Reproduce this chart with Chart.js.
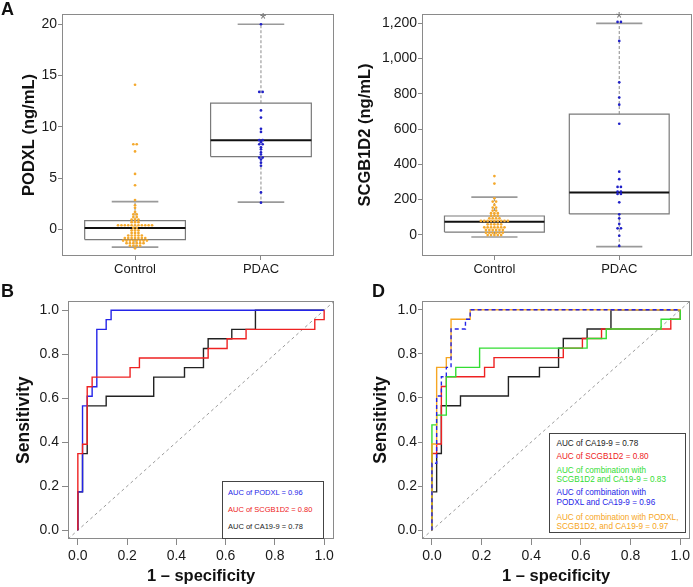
<!DOCTYPE html>
<html lang="en">
<head>
<meta charset="utf-8">
<title>PODXL and SCGB1D2</title>
<script src="https://cdn.jsdelivr.net/npm/chart.js@4/dist/chart.umd.min.js"></script>
<style>
  body { margin:0; background:#fff; width:693px; height:587px; position:relative; overflow:hidden;
         font-family:'Liberation Sans', Arial, sans-serif; }
  canvas { position:absolute; }
  .tag { position:absolute; font-weight:bold; font-size:18px; line-height:18px; color:#111; }
  .star { position:absolute; width:20px; text-align:center; font-size:16px; line-height:16px; color:#777; }
  .legend { position:absolute; border:1px solid #444; background:#fff; box-sizing:border-box; }
  .legend div { position:absolute; white-space:nowrap; line-height:8px; }
</style>
</head>
<body>
<canvas id="cA1" width="340" height="290" style="left:0;top:0"></canvas>
<canvas id="cA2" width="353" height="290" style="left:340px;top:0"></canvas>
<canvas id="cB" width="340" height="297" style="left:0;top:290px"></canvas>
<canvas id="cD" width="353" height="297" style="left:340px;top:290px"></canvas>

<div class="tag" style="left:1px;top:0px">A</div>
<div class="tag" style="left:1px;top:282px">B</div>
<div class="tag" style="left:372px;top:282px">D</div>
<div class="star" style="left:253px;top:12px">*</div>
<div class="star" style="left:609px;top:11px">*</div>

<div class="legend" style="left:222px;top:481px;width:102px;height:58px;font-size:7.5px">
  <div style="left:5px;top:6.5px;color:#2424e8">AUC of PODXL = 0.96</div>
  <div style="left:5px;top:24px;color:#ee2222">AUC of SCGB1D2 = 0.80</div>
  <div style="left:5px;top:41px;color:#222">AUC of CA19-9 = 0.78</div>
</div>
<div class="legend" style="left:549px;top:433px;width:137px;height:100px;font-size:8.2px">
  <div style="left:6.5px;top:6px;color:#222">AUC of CA19-9 = 0.78</div>
  <div style="left:6.5px;top:18.5px;color:#ee2222">AUC of SCGB1D2 = 0.80</div>
  <div style="left:6.5px;top:32.5px;color:#33dd33">AUC of combination with</div>
  <div style="left:6.5px;top:42px;color:#33dd33">SCGB1D2 and CA19-9 = 0.83</div>
  <div style="left:6.5px;top:55px;color:#2424e8">AUC of combination with</div>
  <div style="left:6.5px;top:64.5px;color:#2424e8">PODXL and CA19-9 = 0.96</div>
  <div style="left:6.5px;top:79.5px;color:#f6a623">AUC of combination with PODXL,</div>
  <div style="left:6.5px;top:89px;color:#f6a623">SCGB1D2, and CA19-9 = 0.97</div>
</div>

<script>
// ---- panel A data (ng/mL) ----
const groups = ['Control', 'PDAC'];

const podxlControl = [14.1, 8.3, 8.3, 7.6, 5.4, 4.3, 2.85, 2.35, 2.1, 1.7, 1.45, 1.45,
  1.2, 1.2, 0.95, 0.95, 0.95, 0.7, 0.7, 0.7,
  0.4, 0.4, 0.4, 0.4, 0.4, 0.4, 0.4, 0.4, 0.4, 0.4, 0.4,
  0.15, 0.15, -0.1, -0.1, -0.1, -0.35, -0.35, -0.35,
  -0.6, -0.6, -0.6, -0.6, -0.6,
  -0.85, -0.85, -0.85, -0.85, -0.85, -0.85, -0.85,
  -1.1, -1.1, -1.1, -1.1, -1.1, -1.1, -1.1, -1.1,
  -1.35, -1.35, -1.35, -1.35, -1.35, -1.35,
  -1.6, -1.6, -1.6, -1.6, -1.85];
const podxlPdac = [20, 13.4, 13.4, 11.6, 10.9, 9.8, 9.5, 8.7, 8.7, 8.5, 8.3, 8.3,
  8.0, 7.8, 7.5, 7.3, 7.0, 7.0, 6.8, 6.5, 6.2, 3.6, 2.6];
const podxlLo = [-1.73, 2.65];
const podxlQ1 = [-1.0, 7.1];
const podxlMed = [0.13, 8.7];
const podxlQ3 = [0.85, 12.3];
const podxlHi = [2.7, 20];

const scgbControl = [333, 290, 207, 188, 188, 169, 154, 154, 137, 137,
  122, 122, 122, 108, 108, 108, 93, 93, 93, 93,
  78, 78, 78, 78, 78, 78, 78, 78, 78,
  59, 59, 59, 59, 59, 42, 42, 42, 42, 42, 42, 42,
  27, 27, 27, 27, 27, 27, 11, 11, 11, 11, 11, 11,
  -2, -2, -2, -2, -2];
const scgbPdac = [1208, 1208, 1100, 865, 779, 738, 630, 358, 315, 271, 271,
  245, 245, 231, 231, 184, 116, 93, 61, 36, 36, -6, -64];
const scgbLo = [-13, -68];
const scgbQ1 = [15, 118];
const scgbMed = [74, 239];
const scgbQ3 = [106, 685];
const scgbHi = [213, 1200];

// ---- ROC curves: 1 - specificity and sensitivity at each step ----
const fprPodxl = [0, 0, 0.019, 0.038, 0.058, 0.077, 0.115, 0.135, 1];
const tprPodxl = [0, 0.174, 0.565, 0.609, 0.652, 0.913, 0.957, 1, 1];
const fprScgb = [0, 0, 0.019, 0.038, 0.058, 0.212, 0.25, 0.529, 0.606, 0.683, 0.962, 1];
const tprScgb = [0, 0.348, 0.391, 0.652, 0.696, 0.739, 0.783, 0.826, 0.870, 0.913, 0.957, 1];
const fprCa199 = [0, 0, 0.019, 0.038, 0.115, 0.308, 0.433, 0.51, 0.529, 0.625, 0.721, 1];
const tprCa199 = [0, 0.174, 0.348, 0.565, 0.609, 0.696, 0.739, 0.826, 0.870, 0.913, 1, 1];
const fprScgbCa = [0, 0, 0.019, 0.058, 0.096, 0.192, 0.625, 0.702, 0.923, 1];
const tprScgbCa = [0, 0.478, 0.522, 0.696, 0.739, 0.826, 0.870, 0.913, 0.957, 1];
const fprPodxlCa = [0, 0, 0.019, 0.038, 0.058, 0.077, 0.135, 0.154, 1];
const tprPodxlCa = [0, 0.304, 0.609, 0.696, 0.739, 0.913, 0.957, 1, 1];
const fprAll = [0, 0, 0.019, 0.058, 0.077, 0.154, 1];
const tprAll = [0, 0.391, 0.739, 0.783, 0.957, 1, 1];

const rocTicks = [0, 0.2, 0.4, 0.6, 0.8, 1.0];
const rocMin = -0.04, rocMax = 1.04;

const BLUE = '#2424e8', RED = '#ee2222', GREEN = '#33dd33', ORANGE = '#f6a623', BLACK = '#222';

Chart.defaults.font.family = "'Liberation Sans', Arial, sans-serif";
Chart.defaults.color = '#1a1a1a';
Chart.defaults.animation = false;
Chart.defaults.responsive = false;
Chart.defaults.devicePixelRatio = 1;
Chart.defaults.plugins.legend.display = false;
Chart.defaults.plugins.tooltip.enabled = false;

// grey box round the plot region, like R's box()
const framePlugin = {
  id: 'frame',
  afterDatasetsDraw(chart) {
    const a = chart.chartArea, ctx = chart.ctx;
    ctx.save();
    ctx.strokeStyle = '#8a8a8a';
    ctx.lineWidth = 1;
    ctx.strokeRect(Math.round(a.left) + 0.5, Math.round(a.top) + 0.5,
                   Math.round(a.right - a.left) - 1, Math.round(a.bottom - a.top) - 1);
    ctx.restore();
  }
};

function axis(min, max, ticks, fmt, size, tickLen, pad, fit, title) {
  return {
    type: 'linear', min: min, max: max,
    afterBuildTicks: s => { s.ticks = ticks.map(v => ({ value: v })); },
    afterFit: s => { if (s.isHorizontal()) s.height = fit; else s.width = fit; },
    grid: { display: true, drawOnChartArea: false, drawTicks: true, tickLength: tickLen, color: '#888' },
    border: { display: false },
    ticks: { font: { size: size }, padding: pad, color: '#1a1a1a', callback: fmt, maxRotation: 0, autoSkip: false },
    title: title || { display: false }
  };
}

function line(pts, color, width, dash) {
  return { data: pts.map(p => ({ x: p[0], y: p[1] })), showLine: true, borderColor: color,
           borderWidth: width, borderDash: dash || [], pointRadius: 0, fill: false };
}

const boxHalf = 0.4, stapleHalf = 0.185, dotGap = 0.027;

function boxSets(lo, q1, med, q3, hi) {
  const sets = [];
  for (let i = 0; i < lo.length; i++) {
    const c = i + 1;
    sets.push(line([[c - boxHalf, q1[i]], [c + boxHalf, q1[i]], [c + boxHalf, q3[i]], [c - boxHalf, q3[i]], [c - boxHalf, q1[i]]], '#7a7a7a', 1.2));
    sets.push(line([[c, q3[i]], [c, hi[i]]], '#8a8a8a', 1, [3, 2]));
    sets.push(line([[c, q1[i]], [c, lo[i]]], '#8a8a8a', 1, [3, 2]));
    sets.push(line([[c - stapleHalf, hi[i]], [c + stapleHalf, hi[i]]], '#9a9a9a', 1.6));
    sets.push(line([[c - stapleHalf, lo[i]], [c + stapleHalf, lo[i]]], '#9a9a9a', 1.6));
    sets.push(line([[c - boxHalf, med[i]], [c + boxHalf, med[i]]], '#111', 2));
  }
  return sets;
}

// dots with equal value sit side by side in one row
function swarm(values, center, color) {
  const rows = {}, seen = {};
  values.forEach(v => { rows[v] = (rows[v] || 0) + 1; });
  const pts = values.map(v => {
    const k = seen[v] = (seen[v] || 0) + 1;
    return { x: center + (k - 1 - (rows[v] - 1) / 2) * dotGap, y: v };
  });
  return { data: pts, showLine: false, pointRadius: 1.35, pointBorderWidth: 0,
           pointBackgroundColor: color, pointHoverRadius: 0 };
}

function roc(fpr, tpr, color, dash) {
  return { data: fpr.map((x, i) => ({ x: x, y: tpr[i] })), showLine: true, stepped: 'before',
           borderColor: color, borderWidth: 1.4, borderDash: dash || [], pointRadius: 0, fill: false };
}

// first in list is painted first (at the bottom)
function painted(list) {
  list.forEach((d, i) => { d.order = list.length - i; });
  return list;
}

function yTitle(text, size, offset) {
  return { display: true, text: text, color: '#111', font: { size: size, weight: 'bold' }, padding: { top: offset, bottom: 0 } };
}

function boxChart(id, lo, q1, med, q3, hi, ctrl, pdac, yMin, yMax, yTicks, yFmt, yWidth, padRight, title, titleOff) {
  return new Chart(id, {
    type: 'scatter',
    data: { datasets: painted(boxSets(lo, q1, med, q3, hi).concat([
      swarm(ctrl, 1, '#f4a92e'),
      swarm(pdac, 2, '#2020c8')
    ])) },
    options: {
      layout: { padding: { left: 0, top: 14, right: padRight, bottom: 0 } },
      scales: {
        x: axis(0.42, 2.58, [1, 2], v => groups[v - 1], 13, 4, 2, 34),
        y: axis(yMin, yMax, yTicks, yFmt, 14, 4, 1, yWidth, yTitle(title, 16.5, titleOff))
      }
    },
    plugins: [framePlugin]
  });
}

boxChart('cA1', podxlLo, podxlQ1, podxlMed, podxlQ3, podxlHi, podxlControl, podxlPdac,
         -2.6, 21, [0, 5, 10, 15, 20], v => v, 62, 6, 'PODXL (ng/mL)', 20);
boxChart('cA2', scgbLo, scgbQ1, scgbMed, scgbQ3, scgbHi, scgbControl, scgbPdac,
         -121, 1253, [0, 200, 400, 600, 800, 1000, 1200], v => v.toLocaleString('en-US'), 82, 1, 'SCGB1D2 (ng/mL)', 16);

function rocChart(id, curves, yWidth, padRight, yTick, yPad, titleOff) {
  const diag = line([[rocMin, rocMin], [rocMax, rocMax]], '#9a9a9a', 1, [3, 3]);
  return new Chart(id, {
    type: 'scatter',
    data: { datasets: painted([diag].concat(curves)) },
    options: {
      layout: { padding: { left: 0, top: 11, right: padRight, bottom: 0 } },
      scales: {
        x: axis(rocMin, rocMax, rocTicks, v => v.toFixed(1), 14, 6, 3, 48,
                { display: true, text: '1 \u2013 specificity', color: '#111', font: { size: 16.5, weight: 'bold' }, padding: { top: 0, bottom: 1 } }),
        y: axis(rocMin, rocMax, rocTicks, v => v.toFixed(1), 14, yTick, yPad, yWidth, yTitle('Sensitivity', 17.5, titleOff))
      }
    },
    plugins: [framePlugin]
  });
}

rocChart('cB', [
  roc(fprCa199, tprCa199, BLACK),
  roc(fprPodxl, tprPodxl, BLUE),
  roc(fprScgb, tprScgb, RED)
], 68, 6, 6, 3, 14);

rocChart('cD', [
  roc(fprCa199, tprCa199, BLACK),
  roc(fprScgb, tprScgb, RED),
  roc(fprScgbCa, tprScgbCa, GREEN),
  roc(fprAll, tprAll, ORANGE),
  roc(fprPodxlCa, tprPodxlCa, BLUE, [4, 3])
], 82, 1, 4, 1, 31);
</script>
</body>
</html>
